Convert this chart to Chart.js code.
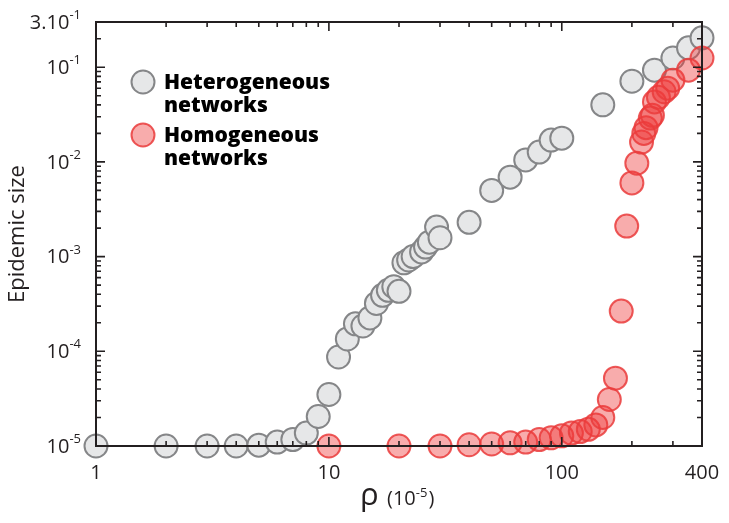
<!DOCTYPE html>
<html>
<head>
<meta charset="utf-8">
<script src="https://cdn.jsdelivr.net/npm/chart.js@4/dist/chart.umd.min.js"></script>
<style>
  body { margin: 0; background: #fff; }
</style>
</head>
<body>
<canvas id="chart" width="729" height="523"></canvas>
<script>
// data (rho in units of 1e-5, epidemic size)
const heteroX = [1, 2, 3, 4, 5, 6, 7, 8, 9, 10, 11, 12, 13, 14, 15, 16, 17, 18, 19, 20,
    21, 22, 23, 25, 26, 27, 29, 30, 40, 50, 60, 70, 80, 90, 100, 150, 200, 250, 300, 350, 400];
const heteroY = [1.0e-5, 1.0e-5, 1.0e-5, 1.0e-5, 1.02e-5, 1.1e-5, 1.17e-5, 1.37e-5, 2.05e-5, 3.5e-5,
    8.7e-5, 1.35e-4, 1.95e-4, 1.85e-4, 2.25e-4, 3.2e-4, 3.9e-4, 4.4e-4, 4.8e-4, 4.3e-4,
    8.6e-4, 9.2e-4, 1.0e-3, 1.12e-3, 1.26e-3, 1.42e-3, 2.05e-3, 1.58e-3, 2.3e-3, 5.0e-3,
    6.9e-3, 1.05e-2, 1.27e-2, 1.7e-2, 1.78e-2, 4.0e-2, 7.1e-2, 9.3e-2, 1.25e-1, 1.6e-1, 2.04e-1];

const homoX = [10, 20, 30, 40, 50, 60, 70, 80, 90, 100, 110, 120, 130, 140, 150, 160, 170, 180,
    190, 200, 210, 220, 225, 230, 240, 245, 250, 260, 275, 285, 300, 350, 400];
const homoY = [1.0e-5, 1.0e-5, 1.0e-5, 1.03e-5, 1.05e-5, 1.08e-5, 1.1e-5, 1.17e-5, 1.22e-5, 1.28e-5,
    1.37e-5, 1.42e-5, 1.5e-5, 1.67e-5, 2.0e-5, 3.1e-5, 5.2e-5, 2.66e-4, 2.1e-3, 6.0e-3,
    9.7e-3, 1.62e-2, 2.0e-2, 2.3e-2, 2.9e-2, 3.1e-2, 4.3e-2, 4.8e-2, 5.5e-2, 6.0e-2,
    7.3e-2, 9.3e-2, 1.25e-1];

const seriesNames = [["Heterogeneous", "networks"], ["Homogeneous", "networks"]];

const xTicks = [1, 10, 100, 400];
const xTickLabels = ["1", "10", "100", "400"];
const yTicks = [1e-5, 1e-4, 1e-3, 1e-2, 1e-1, 3e-1];
const yTickLabels = [["10", "-5"], ["10", "-4"], ["10", "-3"], ["10", "-2"], ["10", "-1"], ["3.10", "-1"]];

const yTitle = "Epidemic size";
const xTitle = ["\u03c1", "(10", "-5", ")"];

const FONT = "'Open Sans', 'Noto Sans', sans-serif";
const INK = "#231f20";

const grey = { fill: "#e6e7e8", line: "#858688" };
const red = { fill: "rgba(238,58,58,0.42)", line: "rgba(234,60,60,0.85)" };

function toPoints(xs, ys) {
    return xs.map((x, i) => ({ x: x, y: ys[i] }));
}

// superscript text helper, right / left aligned
function supText(ctx, base, sup, x, y, size, align) {
    ctx.font = size + "px " + FONT;
    const wb = ctx.measureText(base).width;
    ctx.font = Math.round(size * 0.65) + "px " + FONT;
    const ws = ctx.measureText(sup).width;
    let sx = x;
    if (align === "right") sx = x - wb - ws;
    ctx.textAlign = "left";
    ctx.font = size + "px " + FONT;
    ctx.fillText(base, sx, y);
    ctx.font = Math.round(size * 0.65) + "px " + FONT;
    ctx.fillText(sup, sx + wb, y - size * 0.38);
    return sx + wb + ws;
}

const axisDecor = {
    id: "axisDecor",
    afterDatasetsDraw(chart) {
        const ctx = chart.ctx;
        const a = chart.chartArea;
        const xs = chart.scales.x;
        const ys = chart.scales.y;

        ctx.save();
        ctx.strokeStyle = INK;
        ctx.lineWidth = 1.6;

        // inward ticks on all four sides
        for (let d = 1; d <= 1000; d *= 10) {
            for (let m = 1; m <= 9; m++) {
                const v = d * m;
                if (v <= xs.min || v >= xs.max) continue;
                const px = xs.getPixelForValue(v);
                const len = m === 1 ? 9 : 5;
                ctx.beginPath();
                ctx.moveTo(px, a.bottom);
                ctx.lineTo(px, a.bottom - len);
                ctx.moveTo(px, a.top);
                ctx.lineTo(px, a.top + len);
                ctx.stroke();
            }
        }
        for (let d = 1e-5; d <= 1; d *= 10) {
            for (let m = 1; m <= 9; m++) {
                const v = d * m;
                if (v <= ys.min * 1.001 || v >= ys.max * 0.999) continue;
                const py = ys.getPixelForValue(v);
                const len = m === 1 ? 9 : 5;
                ctx.beginPath();
                ctx.moveTo(a.left, py);
                ctx.lineTo(a.left + len, py);
                ctx.moveTo(a.right, py);
                ctx.lineTo(a.right - len, py);
                ctx.stroke();
            }
        }

        ctx.lineWidth = 2;
        ctx.strokeRect(a.left, a.top, a.right - a.left, a.bottom - a.top);

        // tick labels
        ctx.fillStyle = INK;
        ctx.textBaseline = "middle";
        yTicks.forEach((v, i) => {
            const py = ys.getPixelForValue(v);
            supText(ctx, yTickLabels[i][0], yTickLabels[i][1], 81, py + 1, 20, "right");
        });

        ctx.textBaseline = "alphabetic";
        ctx.textAlign = "center";
        ctx.font = "20px " + FONT;
        xTicks.forEach((v, i) => {
            ctx.fillText(xTickLabels[i], xs.getPixelForValue(v), 479);
        });

        // axis titles
        ctx.save();
        ctx.translate(18, (a.top + a.bottom) / 2);
        ctx.rotate(-Math.PI / 2);
        ctx.textAlign = "center";
        ctx.textBaseline = "middle";
        ctx.font = "22px " + FONT;
        ctx.fillText(yTitle, 0, 0);
        ctx.restore();

        ctx.textAlign = "left";
        ctx.textBaseline = "alphabetic";
        ctx.font = "31px " + FONT;
        ctx.fillText(xTitle[0], 360, 505);
        let tx = supText(ctx, xTitle[1], xTitle[2], 387, 505, 20, "left");
        ctx.font = "20px " + FONT;
        ctx.fillText(xTitle[3], tx + 1, 505);

        // legend
        const rows = [82, 135];
        chart.data.datasets.forEach((ds) => {
            const k = ds.label === seriesNames[0].join(" ") ? 0 : 1;
            const cy = rows[k];
            ctx.beginPath();
            ctx.arc(143, cy, 11.5, 0, Math.PI * 2);
            ctx.fillStyle = "#fff";
            ctx.fill();
            ctx.fillStyle = ds.backgroundColor;
            ctx.fill();
            ctx.lineWidth = 2;
            ctx.strokeStyle = ds.borderColor;
            ctx.stroke();
            ctx.fillStyle = "#000";
            ctx.font = "800 21px " + FONT;
            ctx.fillText(seriesNames[k][0], 164, cy + 7);
            ctx.fillText(seriesNames[k][1], 164, cy + 30);
        });

        ctx.restore();
    }
};

new Chart(document.getElementById("chart"), {
    type: "scatter",
    data: {
        datasets: [
            {
                label: seriesNames[0].join(" "),
                data: toPoints(heteroX, heteroY),
                backgroundColor: grey.fill,
                borderColor: grey.line,
                borderWidth: 2,
                pointRadius: 11.5,
                clip: false,
                order: 1
            },
            {
                label: seriesNames[1].join(" "),
                data: toPoints(homoX, homoY),
                backgroundColor: red.fill,
                borderColor: red.line,
                borderWidth: 2,
                pointRadius: 11.5,
                clip: false,
                order: 0
            }
        ]
    },
    options: {
        responsive: false,
        animation: false,
        layout: { padding: { left: 96, right: 27, top: 22, bottom: 77 } },
        plugins: { legend: { display: false }, tooltip: { enabled: false } },
        scales: {
            x: { type: "logarithmic", min: 1, max: 400, display: false },
            y: { type: "logarithmic", min: 1e-5, max: 3e-1, display: false }
        }
    },
    plugins: [axisDecor]
});
</script>
</body>
</html>
